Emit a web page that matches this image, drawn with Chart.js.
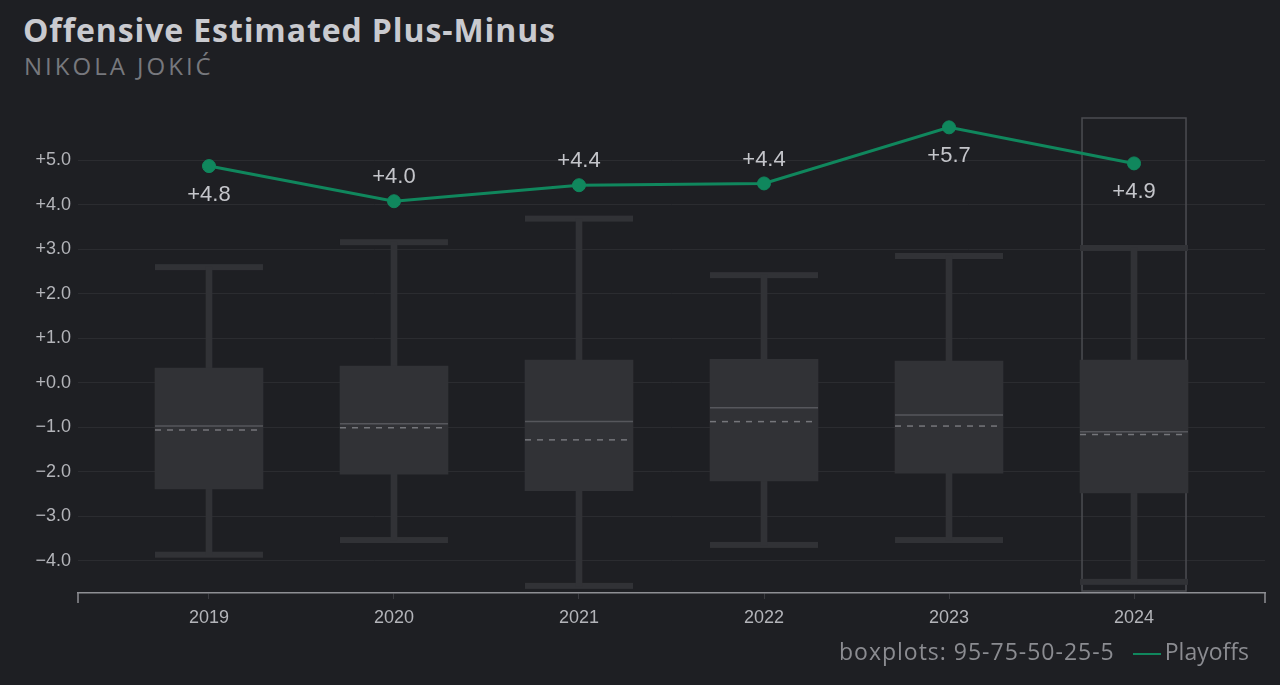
<!DOCTYPE html>
<html lang="en">
<head>
    <meta charset="UTF-8">
    <title>Offensive Estimated Plus-Minus</title>
    <script src="https://cdn.jsdelivr.net/npm/chart.js"></script>
    <style>
        html, body {
            margin: 0;
            padding: 0;
            background: #1e1f23;
            width: 1280px;
            height: 685px;
            overflow: hidden;
            font-family: "Open Sans", "Noto Sans", sans-serif;
        }
        .title {
            position: absolute;
            left: 23px;
            top: 8px;
            font-size: 32px;
            font-weight: bold;
            letter-spacing: 0.9px;
            color: #c9cacf;
        }
        .subtitle {
            position: absolute;
            left: 24px;
            top: 49px;
            font-size: 24px;
            letter-spacing: 3px;
            color: #77787d;
        }
        .legend {
            position: absolute;
            right: 31px;
            top: 635px;
            font-size: 23px;
            color: #8b8c91;
            white-space: nowrap;
        }
        .legend .note { letter-spacing: 1px; }
        .legend .swatch {
            display: inline-block;
            width: 28px;
            height: 2px;
            background: #10875d;
            vertical-align: middle;
            margin: 0 4px 0 18px;
        }
        #wrap {
            position: absolute;
            left: 0;
            top: 0;
            width: 1280px;
            height: 685px;
        }
    </style>
</head>
<body>

    <div class="title">Offensive Estimated Plus-Minus</div>
    <div class="subtitle">NIKOLA JOKIĆ</div>
    <div id="wrap"><canvas id="epmChart"></canvas></div>
    <div class="legend"><span class="note">boxplots: 95-75-50-25-5</span><span class="swatch"></span>Playoffs</div>

    <script>
        // seasons and season distribution (percentiles)
        const seasons = ['2019', '2020', '2021', '2022', '2023', '2024'];
        const p95 = [2.60, 3.16, 3.69, 2.42, 2.85, 3.03];
        const p75 = [0.33, 0.38, 0.51, 0.53, 0.49, 0.51];
        const p50 = [-0.97, -0.92, -0.87, -0.56, -0.72, -1.10];
        const p25 = [-2.38, -2.05, -2.42, -2.20, -2.03, -2.47];
        const p5 = [-3.86, -3.53, -4.56, -3.64, -3.53, -4.47];
        const seasonAvg = [-1.06, -1.01, -1.28, -0.87, -0.97, -1.16];
        const playoffs = [4.87, 4.08, 4.44, 4.48, 5.74, 4.93];
        const yTicks = [-4, -3, -2, -1, 0, 1, 2, 3, 4, 5];

        const boxColor = '#313236';
        const boxWidth = 108;
        const tickFont = { family: '"Liberation Sans", Arial, sans-serif', size: 18 };

        function fmt(v) {
            const s = Math.abs(v).toFixed(1);
            return (v < 0 ? '\u2212' : '+') + s;
        }

        // caps, median, season average, highlight frame, point labels
        const boxExtras = {
            id: 'boxExtras',
            beforeDatasetsDraw(chart) {
                const ctx = chart.ctx;
                const x = chart.scales.x, y = chart.scales.y;
                const area = chart.chartArea;
                ctx.save();
                // highlight frame around the latest season
                const last = seasons.length - 1;
                const cx = x.getPixelForValue(last);
                ctx.strokeStyle = '#4b4c51';
                ctx.lineWidth = 1.5;
                ctx.strokeRect(cx - 52, area.top, 104, area.bottom - area.top - 2);
                // caps
                ctx.fillStyle = boxColor;
                seasons.forEach((s, i) => {
                    const px = x.getPixelForValue(i);
                    ctx.fillRect(px - boxWidth / 2, y.getPixelForValue(p95[i]) - 3, boxWidth, 6);
                    ctx.fillRect(px - boxWidth / 2, y.getPixelForValue(p5[i]) - 3, boxWidth, 6);
                });
                ctx.restore();
            },
            afterDatasetDraw(chart, args) {
                if (args.index !== 1) return;
                const ctx = chart.ctx;
                const x = chart.scales.x, y = chart.scales.y;
                ctx.save();
                seasons.forEach((s, i) => {
                    const px = x.getPixelForValue(i);
                    const l = px - boxWidth / 2, r = px + boxWidth / 2;
                    ctx.lineWidth = 1.5;
                    ctx.strokeStyle = '#56575c';
                    ctx.setLineDash([]);
                    let py = y.getPixelForValue(p50[i]);
                    ctx.beginPath(); ctx.moveTo(l, py); ctx.lineTo(r, py); ctx.stroke();
                    ctx.strokeStyle = '#75767b';
                    ctx.setLineDash([6, 6]);
                    py = y.getPixelForValue(seasonAvg[i]);
                    ctx.beginPath(); ctx.moveTo(l, py); ctx.lineTo(r, py); ctx.stroke();
                });
                ctx.restore();
            },
            afterDatasetsDraw(chart) {
                const ctx = chart.ctx;
                const meta = chart.getDatasetMeta(2);
                ctx.save();
                ctx.font = '22px "Liberation Sans", Arial, sans-serif';
                ctx.fillStyle = '#c4c5ca';
                ctx.textAlign = 'center';
                ctx.textBaseline = 'middle';
                meta.data.forEach((pt, i) => {
                    // label above when the line rises to the next season, below otherwise
                    const next = i < playoffs.length - 1 ? playoffs[i + 1] : playoffs[i] - 1;
                    const above = next > playoffs[i];
                    const label = fmt(Math.floor(playoffs[i] * 10) / 10);
                    ctx.fillText(label, pt.x, pt.y + (above ? -24 : 29));
                });
                ctx.restore();
            }
        };

        // end caps on the x axis line
        const axisEnds = {
            id: 'axisEnds',
            afterDraw(chart) {
                const ctx = chart.ctx;
                const a = chart.chartArea;
                ctx.save();
                ctx.strokeStyle = '#8e8f94';
                ctx.lineWidth = 1.5;
                ctx.beginPath();
                ctx.moveTo(a.left, a.bottom); ctx.lineTo(a.left, a.bottom + 10);
                ctx.moveTo(a.right, a.bottom); ctx.lineTo(a.right, a.bottom + 10);
                ctx.stroke();
                ctx.restore();
            }
        };

        new Chart(document.getElementById('epmChart').getContext('2d'), {
            type: 'bar',
            data: {
                datasets: [
                    {
                        label: 'whisker',
                        data: seasons.map((s, i) => ({ x: i, y: [p5[i], p95[i]] })),
                        backgroundColor: boxColor,
                        barThickness: 6,
                        grouped: false,
                        order: 3
                    },
                    {
                        label: 'box',
                        data: seasons.map((s, i) => ({ x: i, y: [p25[i], p75[i]] })),
                        backgroundColor: boxColor,
                        barThickness: boxWidth,
                        grouped: false,
                        order: 2
                    },
                    {
                        type: 'line',
                        label: 'Playoffs',
                        data: seasons.map((s, i) => ({ x: i, y: playoffs[i] })),
                        borderColor: '#10875d',
                        backgroundColor: '#10875d',
                        borderWidth: 3,
                        pointRadius: 6.5,
                        pointHoverRadius: 6.5,
                        pointBorderWidth: 1,
                        order: 1
                    }
                ]
            },
            options: {
                responsive: true,
                maintainAspectRatio: false,
                animation: false,
                layout: { padding: { left: 0, right: 15, top: 118, bottom: 0 } },
                plugins: {
                    legend: { display: false },
                    tooltip: { enabled: false }
                },
                scales: {
                    x: {
                        type: 'linear',
                        offset: false,
                        min: -0.708,
                        max: 5.708,
                        afterBuildTicks: scale => { scale.ticks = seasons.map((s, i) => ({ value: i })); },
                        afterFit: scale => { scale.height = 92; },
                        ticks: {
                            callback: v => seasons[v],
                            color: '#b3b4b9',
                            font: tickFont,
                            padding: 8,
                            maxRotation: 0
                        },
                        grid: { drawOnChartArea: false, offset: false, color: '#3a3b40', tickLength: 6 },
                        border: { color: '#8e8f94', width: 1.5 }
                    },
                    y: {
                        min: -4.72,
                        max: 5.95,
                        afterBuildTicks: scale => { scale.ticks = yTicks.map(v => ({ value: v })); },
                        afterFit: scale => { scale.width = 78; },
                        ticks: {
                            callback: v => fmt(v),
                            color: '#b3b4b9',
                            font: tickFont,
                            padding: 7
                        },
                        grid: { color: '#2b2c30', lineWidth: 1, drawTicks: false },
                        border: { display: false }
                    }
                }
            },
            plugins: [boxExtras, axisEnds]
        });
    </script>

</body>
</html>
